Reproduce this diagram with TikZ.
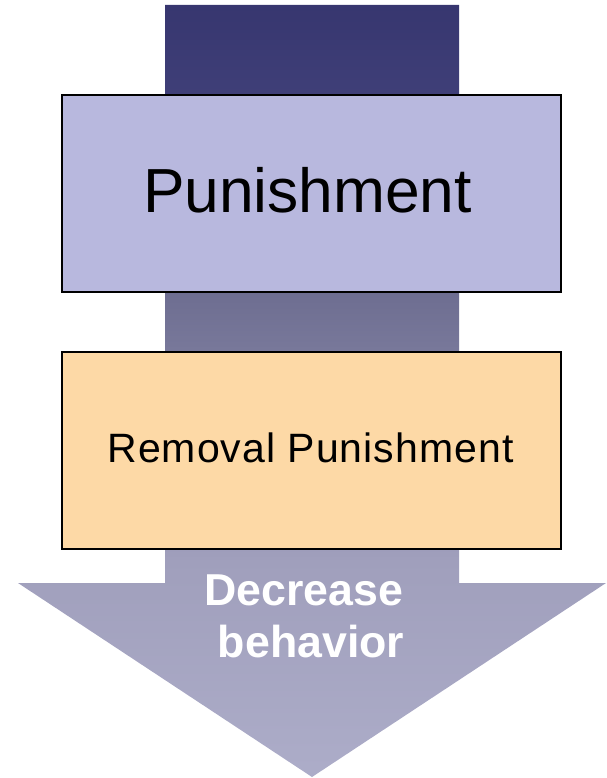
\documentclass[tikz,border=0pt]{standalone}
\usepackage{fontspec}
\setmainfont{Liberation Sans}
\definecolor{shA}{RGB}{55,54,111}
\definecolor{shB}{RGB}{63,63,120}
\definecolor{shC}{RGB}{111,111,146}
\definecolor{shD}{RGB}{120,120,154}
\definecolor{shE}{RGB}{160,159,188}
\definecolor{shF}{RGB}{172,172,200}
\definecolor{lavender}{RGB}{184,184,222}
\definecolor{peach}{RGB}{253,217,166}
% dark at the top of the arrow, fading towards the tip
\pgfdeclareverticalshading{flowshade}{100bp}{%
  color(0bp)=(shF); color(25.5bp)=(shF); color(39.1bp)=(shE);
  color(52.7bp)=(shD); color(55.9bp)=(shC); color(69.2bp)=(shB);
  color(75bp)=(shA); color(100bp)=(shA)}
\tikzset{
  stagebox/.style={draw=black, line width=2pt, minimum width=499pt,
    minimum height=197pt, inner sep=0pt},
  caption/.style={anchor=base, inner sep=0pt},
}
\begin{document}
\begin{tikzpicture}[x=1pt,y=-1pt]
\useasboundingbox (0,0) rectangle (606,778);
% big downward arrow
\shade[shading=flowshade] (165,5) -- (459,5) -- (459,583) -- (606,583)
  -- (312,777) -- (18,583) -- (165,583) -- cycle;
% stage boxes
\node[stagebox, fill=lavender] (pbox) at (311.5,193.5) {};
\node[stagebox, fill=peach] (rbox) at (311.5,450.5) {};
\node[caption] (ptext) at (307.5,212)
  {\fontsize{62.3}{70}\selectfont Punishment};
\node[caption] (rtext) at (310.5,462)
  {\fontsize{41}{48}\selectfont\addfontfeature{LetterSpace=2.5}Removal Punishment};
% arrow label
\node[caption, text=white] (dec) at (304,605)
  {\fontsize{44.7}{52}\selectfont\bfseries Decrease};
\node[caption, text=white] (beh) at (311,657)
  {\fontsize{44.7}{52}\selectfont\bfseries behavior};
\end{tikzpicture}
\end{document}
